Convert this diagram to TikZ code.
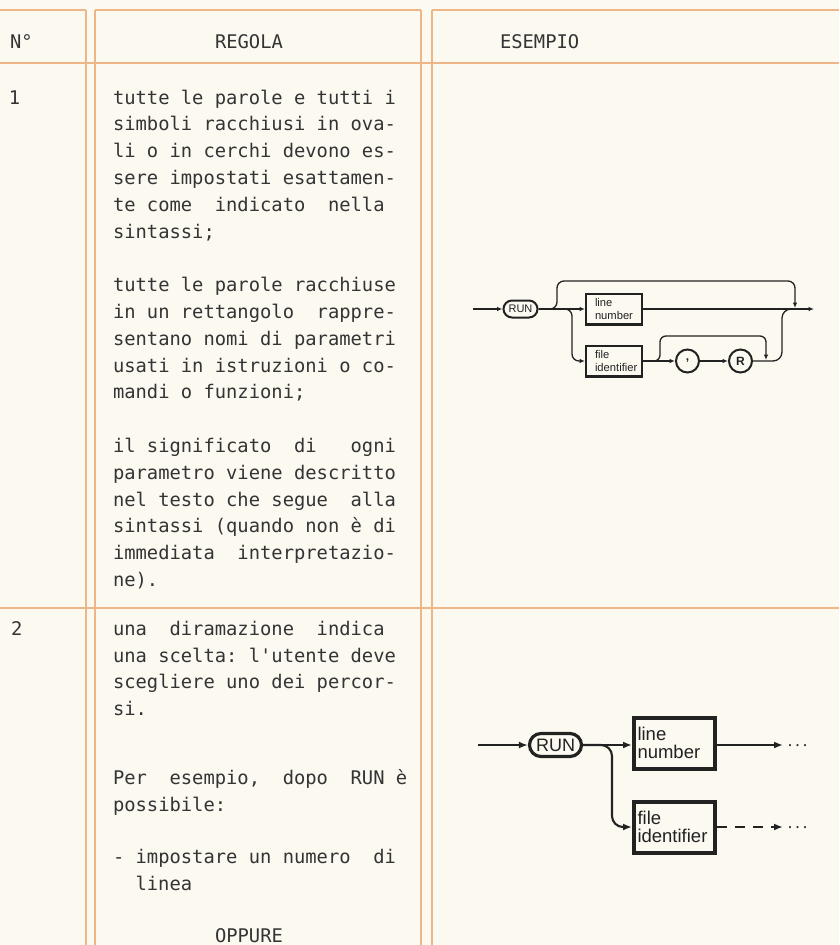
\documentclass[tikz,border=0pt]{standalone}
\usepackage{fontspec}
\setmonofont{DejaVu Sans Mono}
\newfontfamily\diagfont{Liberation Sans}
\usetikzlibrary{arrows.meta}
\definecolor{paper}{RGB}{252,249,241}
\definecolor{rulecol}{RGB}{238,182,134}
\definecolor{ink}{RGB}{52,52,52}
\definecolor{dink}{RGB}{34,34,34}
\frenchspacing
\tikzset{
  tabline/.style={draw=rulecol, line width=1.4pt},
  txt/.style={anchor=base west, inner sep=0pt, outer sep=0pt, text=ink, font=\ttfamily\fontsize{18.8}{22}\selectfont},
  conn1/.style={draw=dink, line width=1.3pt},
  conn2/.style={draw=dink, line width=2.1pt},
  tip1/.style={-{Latex[length=5.5pt,width=4.5pt]}},
  tip2/.style={-{Latex[length=9pt,width=7pt]}},
  run1/.style={draw=dink, line width=2pt, rounded corners=8.5pt, minimum width=34pt, minimum height=17pt, inner sep=0pt, text=dink, font=\diagfont\fontsize{11}{12}\selectfont},
  box1/.style={draw=dink, line width=2.4pt, minimum width=55.6pt, minimum height=30.6pt, text width=38pt, inner xsep=8.8pt, inner ysep=0pt, align=left, text=dink, font=\diagfont\fontsize{11.2}{13}\selectfont},
  circ1/.style={draw=dink, circle, line width=2pt, minimum size=23pt, inner sep=0pt, text=dink, font=\diagfont\bfseries\fontsize{12}{12}\selectfont},
  run2/.style={draw=dink, line width=3.2pt, rounded corners=11.5pt, minimum width=52pt, minimum height=23pt, inner sep=0pt, text=dink, font=\diagfont\fontsize{18}{20}\selectfont},
  box2/.style={draw=dink, line width=4pt, minimum width=81pt, minimum height=51pt, text width=74pt, inner xsep=3.5pt, inner ysep=0pt, align=left, text=dink, font=\diagfont\fontsize{18.5}{18}\selectfont},
  dotsnode/.style={anchor=west, inner sep=0pt, text=dink, font=\diagfont\fontsize{18}{20}\selectfont}
}
\begin{document}
\begin{tikzpicture}[x=1pt,y=-1pt]
\useasboundingbox (0,0) rectangle (839,945);
\fill[paper] (0,0) rectangle (839,945);

% table rules
\draw[tabline] (0,10) -- (86,10);
\draw[tabline] (95,10) -- (421,10);
\draw[tabline] (432,10) -- (839,10);
\draw[tabline] (0,63) -- (839,63);
\draw[tabline] (0,608) -- (839,608);
\draw[tabline] (86,10) -- (86,945);
\draw[tabline] (95,10) -- (95,945);
\draw[tabline] (421,10) -- (421,945);
\draw[tabline] (432,10) -- (432,945);

% header
\node[txt] (hn) at (10,48) {N°};
\node[txt] (hr) at (215,48) {REGOLA};
\node[txt] (he) at (500,48) {ESEMPIO};

% row 1
\node[txt] (n1) at (9,104) {1};
\node[txt] (a1) at (113,104) {tutte le parole e tutti i};
\node[txt] (a2) at (113,130.8) {simboli racchiusi in ova-};
\node[txt] (a3) at (113,157.6) {li o in cerchi devono es-};
\node[txt] (a4) at (113,184.4) {sere impostati esattamen-};
\node[txt] (a5) at (113,211.2) {te come~ indicato~ nella};
\node[txt] (a6) at (113,238) {sintassi;};
\node[txt] (b1) at (113,291.6) {tutte le parole racchiuse};
\node[txt] (b2) at (113,318.4) {in un rettangolo~ rappre-};
\node[txt] (b3) at (113,345.2) {sentano nomi di parametri};
\node[txt] (b4) at (113,372) {usati in istruzioni o co-};
\node[txt] (b5) at (113,398.8) {mandi o funzioni;};
\node[txt] (c1t) at (113,452.4) {il significato~ di~~ ogni};
\node[txt] (c2t) at (113,479.2) {parametro viene descritto};
\node[txt] (c3t) at (113,506) {nel testo che segue~ alla};
\node[txt] (c4t) at (113,532.8) {sintassi (quando non è di};
\node[txt] (c5t) at (113,559.6) {immediata~ interpretazio-};
\node[txt] (c6t) at (113,586.4) {ne).};

% row 2
\node[txt] (n2) at (11,635) {2};
\node[txt] (d1) at (113,635) {una~ diramazione~ indica};
\node[txt] (d2) at (113,662) {una scelta: l'utente deve};
\node[txt] (d3) at (113,688) {scegliere uno dei percor-};
\node[txt] (d4) at (113,715) {si.};
\node[txt] (e1t) at (113,784) {Per~ esempio,~ dopo~ RUN è};
\node[txt] (e2t) at (113,811) {possibile:};
\node[txt] (f1t) at (113,863) {- impostare un numero~ di};
\node[txt] (f2t) at (135.6,890) {linea};
\node[txt] (g1t) at (215,942) {OPPURE};

% diagram 1
\node[run1] (run1) at (520.5,309) {RUN};
\node[box1] (ln1) at (614,309) {line\\number};
\node[box1] (fi1) at (614,361) {file\\identifier};
\node[circ1] (cm1) at (687.5,361) {,};
\node[circ1] (rr1) at (740.5,361) {R};
\coordinate (s1) at (473,309);
\coordinate (e1) at (814,309);
\draw[conn1,tip1] (s1) -- (run1.west);
\draw[conn1,tip1] (run1.east) -- (run1.east -| ln1.west);
\draw[conn1,tip1,rounded corners=7pt] (run1.east) -- (557,309) -- (557,281) -- (795,281) -- (795,308);
\draw[conn1,tip1,rounded corners=7pt] (run1.east) -- (572,309) -- (572,361) -- (fi1.west);
\draw[conn1,tip1] (ln1.east) -- (e1);
\draw[conn1,tip1] (fi1.east) -- (cm1.west);
\draw[conn1,tip1] (cm1.east) -- (rr1.west);
\draw[conn1,tip1,rounded corners=6pt] (fi1.east) -- (660,361) -- (660,336) -- (766,336) -- (766,360);
\draw[conn1,rounded corners=9pt] (rr1.east) -- (782,361) -- (782,309) -- (800,309);

% diagram 2
\node[run2] (run2) at (555.5,745) {RUN};
\node[box2] (ln2) at (674.5,743) {line\\number};
\node[box2] (fi2) at (674.5,827) {file\\identifier};
\coordinate (s2) at (478,745);
\coordinate (e2a) at (783,745);
\coordinate (e2b) at (783,827);
\draw[conn2,tip2] (s2) -- (run2.west);
\draw[conn2,tip2] (run2.east) -- (run2.east -| ln2.west);
\draw[conn2,tip2] (run2.east -| ln2.east) -- (e2a);
\draw[conn2,tip2,rounded corners=11pt] (run2.east) -- (612,745) -- (612,827) -- (fi2.west);
\draw[conn2,tip2,dash pattern=on 10pt off 8pt] (fi2.east) -- (e2b);
\node[dotsnode] (dt1) at (787,748) {·\kern1.5pt·\kern1.5pt·};
\node[dotsnode] (dt2) at (787,830) {·\kern1.5pt·\kern1.5pt·};
\end{tikzpicture}
\end{document}
